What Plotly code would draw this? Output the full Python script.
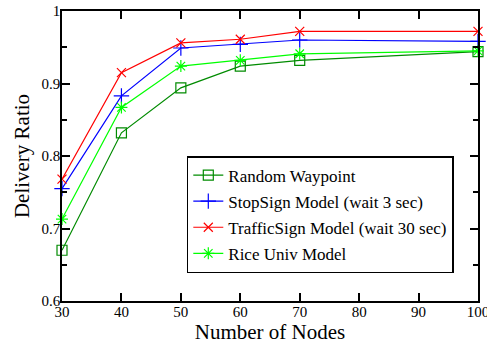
import plotly.graph_objects as go

nodes = [30, 40, 50, 60, 70, 100]
random_waypoint = [0.670, 0.832, 0.894, 0.924, 0.932, 0.944]
stopsign = [0.755, 0.883, 0.949, 0.954, 0.960, 0.958]
trafficsign = [0.768, 0.915, 0.956, 0.961, 0.972, 0.972]
rice_univ = [0.713, 0.867, 0.924, 0.932, 0.941, 0.945]

names = ["Random Waypoint", "StopSign Model (wait 3 sec)",
         "TrafficSign Model (wait 30 sec)", "Rice Univ Model"]
colors = ["rgb(0,139,0)", "rgb(0,0,255)", "rgb(255,0,0)", "rgb(0,255,0)"]
symbols = ["square-open", "cross-thin", "x-thin", "asterisk"]
sizes = [10, 11, 9, 10]
series = [random_waypoint, stopsign, trafficsign, rice_univ]

fig = go.Figure()
for i, (nm, col, sym, sz, ys) in enumerate(zip(names, colors, symbols, sizes, series)):
    fig.add_trace(go.Scatter(
        x=nodes, y=ys, name=nm, mode="lines+markers",
        line=dict(color=col, width=1.2),
        marker=dict(symbol=sym, size=sz, color=col, line=dict(color=col, width=1.2)),
        legendgroup=str(i), cliponaxis=False,
    ))

font = "Liberation Serif"
axis_common = dict(
    showline=True, linecolor="black", linewidth=1.5, mirror="allticks",
    ticks="inside", ticklen=8, tickwidth=1.5, tickcolor="black",
    showgrid=False, zeroline=False, automargin=False,
    tickfont=dict(family=font, size=15, color="black"),
)
fig.update_layout(
    width=487, height=348,
    margin=dict(l=62, r=9, t=11, b=47),
    paper_bgcolor="white", plot_bgcolor="white",
    font=dict(family=font),
    xaxis=dict(range=[30, 100], dtick=10, tick0=30, ticklabeloverflow="allow",
               ticklabelstandoff=-4,
               title=dict(text="Number of Nodes", font=dict(family=font, size=21, color="black"), standoff=4),
               **axis_common),
    yaxis=dict(range=[0.6, 1.0], dtick=0.1, tick0=0.6, ticklabelstandoff=-3,
               minor=dict(dtick=0.05, ticks="inside", ticklen=5, tickwidth=1.5, tickcolor="black"),
               title=dict(text="Delivery Ratio", font=dict(family=font, size=21, color="black"), standoff=6),
               **axis_common),
    legend=dict(x=0.30, y=0.5, xanchor="left", yanchor="top",
                bgcolor="white", bordercolor="black", borderwidth=1.5,
                font=dict(family=font, size=17, color="black"),
                tracegroupgap=1, itemwidth=30),
    showlegend=True,
)
fig.write_html("out.html", config={"displayModeBar": False},
               post_script="document.body.style.margin='0';")
